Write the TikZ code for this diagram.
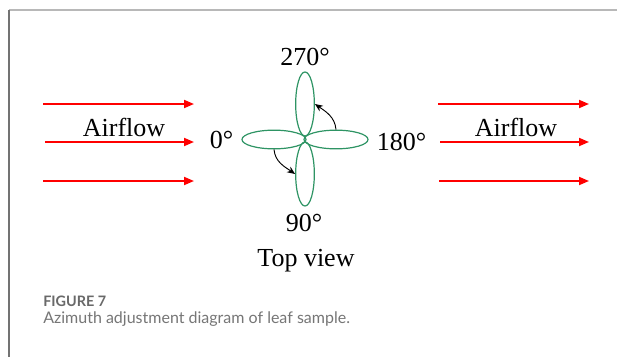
\documentclass[tikz,border=0pt]{standalone}
\usepackage{fontspec}
\setmainfont{Liberation Serif}
\newfontfamily\capfont{Lato}
\usetikzlibrary{arrows.meta,shapes.geometric}
\definecolor{leafgreen}{RGB}{46,148,100}
\definecolor{capgray}{RGB}{118,118,118}
\definecolor{figgray}{RGB}{105,105,105}
\begin{document}
\begin{tikzpicture}[x=0.75pt,y=-0.75pt,
  lbl/.style={font=\fontsize{19.5pt}{22pt}\selectfont, inner sep=0pt, anchor=base},
  flow/.style={draw=red, line width=1.4pt, -{Triangle[length=7.5pt,width=6pt]}},
  leaf/.style={draw=leafgreen, line width=0.9pt, ellipse, inner sep=0pt},
  vleaf/.style={leaf, minimum width=14pt, minimum height=48pt},
  hleaf/.style={leaf, minimum width=48pt, minimum height=14pt},
  turn/.style={draw=black, line width=0.7pt, -{Stealth[length=6pt,width=5pt]}}]
\useasboundingbox (0,0) rectangle (617,357);
\fill[white] (0,0) rectangle (617,357);
% frame
\coordinate (fc) at (9,9.5);
\coordinate (fr) at (617,9.5);
\coordinate (fb) at (9,357);
\draw[line width=1.5pt, black!28] (fc) -- (fr);
\draw[line width=1.1pt, black!55] (fc) -- (fb);
% left airflow
\coordinate (la1) at (43,104); \coordinate (lb1) at (194,104);
\coordinate (la2) at (45,142); \coordinate (lb2) at (194,142);
\coordinate (la3) at (43,181); \coordinate (lb3) at (194,181);
\draw[flow] (la1) -- (lb1);
\draw[flow] (la2) -- (lb2);
\draw[flow] (la3) -- (lb3);
\node[lbl] (afl) at (124,136) {Airflow};
% right airflow
\coordinate (ra1) at (438,104); \coordinate (rb1) at (589,104);
\coordinate (ra2) at (440,142); \coordinate (rb2) at (589,142);
\coordinate (ra3) at (439,181); \coordinate (rb3) at (589,181);
\draw[flow] (ra1) -- (rb1);
\draw[flow] (ra2) -- (rb2);
\draw[flow] (ra3) -- (rb3);
\node[lbl] (afr) at (516,136) {Airflow};
% leaves
\node[vleaf] (ltop) at (305,104) {};
\node[vleaf] (lbot) at (305,174) {};
\node[hleaf] (lleft) at (274,139.5) {};
\node[hleaf] (lright) at (336,139.5) {};
% angle labels
\node[lbl] (a270) at (305,65) {270°};
\node[lbl] (a0) at (221.5,148.5) {0°};
\node[lbl] (a180) at (401.5,150) {180°};
\node[lbl] (a90) at (304,231.5) {90°};
\node[lbl] (tv) at (306,266) {Top view};
% rotation arrows
\draw[turn] (lright.north) to[out=95,in=-35] (ltop.east);
\draw[turn] (lleft.south) to[out=-85,in=145] (lbot.west);
% caption
\node[font=\capfont\fontsize{10.8pt}{12pt}\selectfont\bfseries, text=figgray, anchor=base west, inner sep=0pt] (fig) at (43,306) {FIGURE 7};
\node[font=\capfont\fontsize{12pt}{14pt}\selectfont, text=capgray, anchor=base west, inner sep=0pt] (cap) at (43,323.5) {Azimuth adjustment diagram of leaf sample.};
\end{tikzpicture}
\end{document}
